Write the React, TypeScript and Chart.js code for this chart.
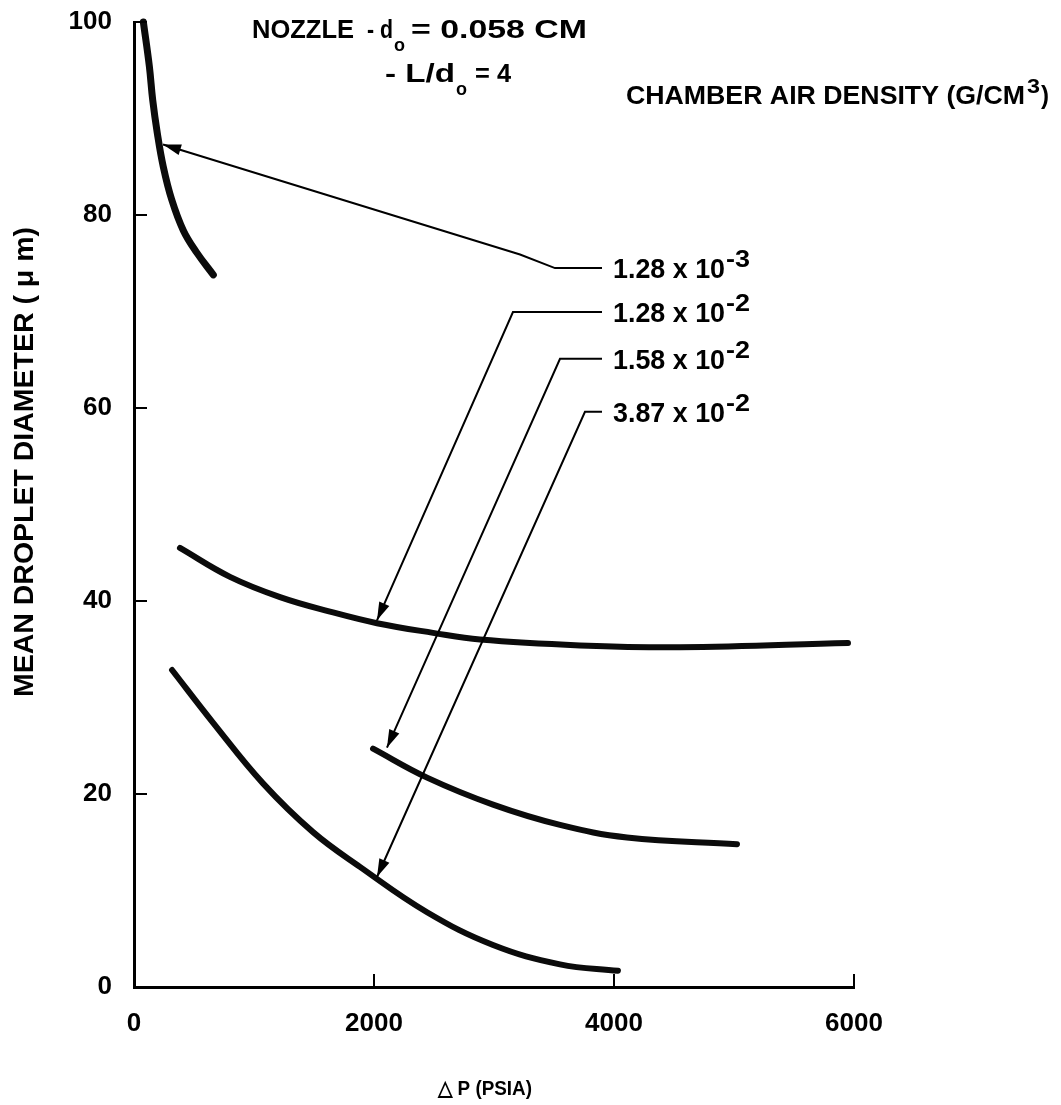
import React, { useEffect, useRef } from 'react';
import { Chart, registerables } from 'chart.js';

Chart.register(...registerables);

// ---------------- data ----------------
const xTickValues = [0, 2000, 4000, 6000];
const yTickValues = [0, 20, 40, 60, 80, 100];

const seriesNames = ['1.28 x 10', '1.28 x 10', '1.58 x 10', '3.87 x 10'];
const seriesExponents = ['-3', '-2', '-2', '-2'];

// chamber air density 1.28e-3
const pressure128e3 = [78, 128, 156, 194, 244, 314, 411, 523, 661];
const diameter128e3 = [100, 95.4, 91.9, 88.5, 85.0, 81.6, 78.4, 76.1, 73.8];
// 1.28e-2
const pressure128e2 = [383, 800, 1217, 1633, 2025, 2492, 2883, 3717, 4550, 5950];
const diameter128e2 = [45.5, 42.5, 40.4, 38.9, 37.7, 36.7, 36.0, 35.4, 35.2, 35.65];
// 1.58e-2
const pressure158e2 = [1992, 2442, 2992, 3550, 4108, 5025];
const diameter158e2 = [24.7, 21.7, 18.9, 16.8, 15.5, 14.8];
// 3.87e-2
const pressure387e2 = [317, 658, 1075, 1492, 1883, 2442, 2992, 3550, 4033];
const diameter387e2 = [32.85, 27.4, 21.1, 16.05, 12.45, 7.75, 4.35, 2.35, 1.68];

// leader lines in data coordinates: arrow tip first, label end last
const leader128e3 = [[242, 87.3], [3217, 75.9], [3508, 74.5], [3900, 74.5]];
const leader128e2 = [[2025, 38.0], [3158, 69.95], [3900, 69.95]];
const leader158e2 = [[2108, 24.8], [3550, 65.1], [3900, 65.1]];
const leader387e2 = [[2025, 11.4], [3758, 59.6], [3900, 59.6]];

const headerLine1 = ['NOZZLE', '- d', 'o', '= 0.058 CM'];
const headerLine2 = ['- L/d', 'o', '= 4'];
const legendTitle = ['CHAMBER AIR DENSITY (G/CM', '3', ')'];
const yTitle = 'MEAN DROPLET DIAMETER ( \u03bc m)';
const xTitle = '\u25b3 P (PSIA)';

// ---------------- drawing helpers ----------------
const FONT = '"Liberation Sans", Arial, Helvetica, sans-serif';

function fitText(ctx: CanvasRenderingContext2D, text: string, left: number, baseline: number, font: string, width?: number) {
  ctx.font = font;
  const w = ctx.measureText(text).width;
  const sx = width ? width / w : 1;
  ctx.save();
  ctx.translate(left, baseline);
  ctx.scale(sx, 1);
  ctx.textAlign = 'left';
  ctx.textBaseline = 'alphabetic';
  ctx.fillText(text, 0, 0);
  ctx.restore();
  return left + w * sx;
}

const decorPlugin = {
  id: 'decor',
  beforeDraw(chart: any) {
    const c = chart.ctx;
    c.save();
    c.fillStyle = '#fff';
    c.fillRect(0, 0, chart.width, chart.height);
    c.restore();
  },
  afterDatasetsDraw(chart: any) {
    const ctx: CanvasRenderingContext2D = chart.ctx;
    const xs = chart.scales.x;
    const ys = chart.scales.y;
    const X = (v: number) => xs.getPixelForValue(v);
    const Y = (v: number) => ys.getPixelForValue(v);
    const area = chart.chartArea;
    ctx.save();
    ctx.strokeStyle = '#000';
    ctx.fillStyle = '#000';
    ctx.lineCap = 'butt';

    // inward tick marks
    ctx.lineWidth = 2;
    yTickValues.forEach((v) => {
      if (v === 0) return;
      const y = Y(v);
      ctx.beginPath();
      ctx.moveTo(area.left, y);
      ctx.lineTo(area.left + 13, y);
      ctx.stroke();
    });
    xTickValues.forEach((v) => {
      if (v === 0) return;
      const x = X(v);
      ctx.beginPath();
      ctx.moveTo(x, area.bottom);
      ctx.lineTo(x, area.bottom - 13);
      ctx.stroke();
    });

    // leader lines, arrowheads and density labels
    const leaders = [leader128e3, leader128e2, leader158e2, leader387e2];
    leaders.forEach((pts, i) => {
      const p = pts.map(([a, b]) => [X(a), Y(b)]);
      ctx.lineWidth = 2;
      ctx.lineJoin = 'miter';
      ctx.beginPath();
      p.forEach(([x, y], k) => (k ? ctx.lineTo(x, y) : ctx.moveTo(x, y)));
      ctx.stroke();
      const [tx, ty] = p[0];
      const [sx, sy] = p[1];
      const ang = Math.atan2(ty - sy, tx - sx);
      const L = 18;
      const W = 5.5;
      const bx = tx - L * Math.cos(ang);
      const by = ty - L * Math.sin(ang);
      ctx.beginPath();
      ctx.moveTo(tx, ty);
      ctx.lineTo(bx + W * Math.sin(ang), by - W * Math.cos(ang));
      ctx.lineTo(bx - W * Math.sin(ang), by + W * Math.cos(ang));
      ctx.closePath();
      ctx.fill();
      const [ex, ey] = p[p.length - 1];
      const base = ey + 10;
      const right = fitText(ctx, seriesNames[i], ex + 11, base, `bold 27px ${FONT}`, 112);
      fitText(ctx, seriesExponents[i], right + 1, base - 11, `bold 23px ${FONT}`, 24);
    });

    // header block
    const f25 = `bold 25px ${FONT}`;
    const f18 = `bold 19px ${FONT}`;
    fitText(ctx, headerLine1[0], 252, 38, f25, 102);
    fitText(ctx, headerLine1[1], 367, 38, f25, 26);
    fitText(ctx, headerLine1[2], 394, 51, f18, 11);
    fitText(ctx, headerLine1[3], 411, 38, f25, 176);
    fitText(ctx, headerLine2[0], 385, 82, f25, 70);
    fitText(ctx, headerLine2[1], 456, 95, f18, 11);
    fitText(ctx, headerLine2[2], 475, 82, f25, 36);

    fitText(ctx, legendTitle[0], 626, 104, f25, 399);
    fitText(ctx, legendTitle[1], 1027, 93, `bold 20px ${FONT}`, 13);
    fitText(ctx, legendTitle[2], 1041, 104, f25, 8);

    // axis titles
    ctx.save();
    ctx.translate(33, 697);
    ctx.rotate(-Math.PI / 2);
    fitText(ctx, yTitle, 0, 0, `bold 27px ${FONT}`, 470);
    ctx.restore();
    fitText(ctx, xTitle, 438, 1095, `bold 21px ${FONT}`, 94);

    ctx.restore();
  },
};

const mk = (xv: number[], yv: number[]) => xv.map((x, i) => ({ x, y: yv[i] }));

export default function App() {
  const ref = useRef<HTMLCanvasElement | null>(null);
  useEffect(() => {
    const canvas = ref.current;
    if (!canvas) return;
    const lineStyle = {
      showLine: true,
      borderColor: '#0b0b0b',
      backgroundColor: '#0b0b0b',
      pointRadius: 0,
      pointHoverRadius: 0,
      tension: 0.4,
      borderCapStyle: 'round',
      borderJoinStyle: 'round',
      fill: false,
      clip: false,
    };
    const tickFont = { family: FONT, size: 26, weight: 'bold' };
    const chart = new Chart(canvas, {
      type: 'scatter',
      data: {
        datasets: [
          { ...lineStyle, label: seriesNames[0] + seriesExponents[0], data: mk(pressure128e3, diameter128e3), borderWidth: 7 },
          { ...lineStyle, label: seriesNames[1] + seriesExponents[1], data: mk(pressure128e2, diameter128e2), borderWidth: 6 },
          { ...lineStyle, label: seriesNames[2] + seriesExponents[2], data: mk(pressure158e2, diameter158e2), borderWidth: 6 },
          { ...lineStyle, label: seriesNames[3] + seriesExponents[3], data: mk(pressure387e2, diameter387e2), borderWidth: 6 },
        ] as any,
      },
      options: {
        animation: false,
        responsive: false,
        events: [],
        layout: { padding: { top: 22, right: 207, left: 0, bottom: 0 } },
        plugins: { legend: { display: false }, tooltip: { enabled: false }, title: { display: false } },
        scales: {
          x: {
            type: 'linear',
            min: xTickValues[0],
            max: xTickValues[xTickValues.length - 1],
            afterBuildTicks: (s: any) => { s.ticks = xTickValues.map((v) => ({ value: v })); },
            grid: { display: false, drawTicks: false },
            border: { display: true, color: '#000', width: 3 },
            ticks: { color: '#000', font: tickFont, padding: 21, maxRotation: 0, autoSkip: false, callback: (v: any) => String(v) },
            afterFit: (s: any) => { s.height = 118; s.paddingLeft = 0; s.paddingRight = 0; },
          },
          y: {
            type: 'linear',
            min: yTickValues[0],
            max: yTickValues[yTickValues.length - 1],
            afterBuildTicks: (s: any) => { s.ticks = yTickValues.map((v) => ({ value: v })); },
            grid: { display: false, drawTicks: false },
            border: { display: true, color: '#000', width: 3 },
            ticks: { color: '#000', font: tickFont, padding: 22, autoSkip: false, callback: (v: any) => String(v) },
            afterFit: (s: any) => { s.width = 134; s.paddingTop = 0; s.paddingBottom = 0; },
          },
        },
      } as any,
      plugins: [decorPlugin],
    });
    return () => chart.destroy();
  }, []);
  return (
    <div style={{ position: 'absolute', left: 0, top: 0, width: 1061, height: 1105, background: '#fff' }}>
      <canvas ref={ref} width={1061} height={1105} style={{ display: 'block', width: 1061, height: 1105 }} />
    </div>
  );
}
